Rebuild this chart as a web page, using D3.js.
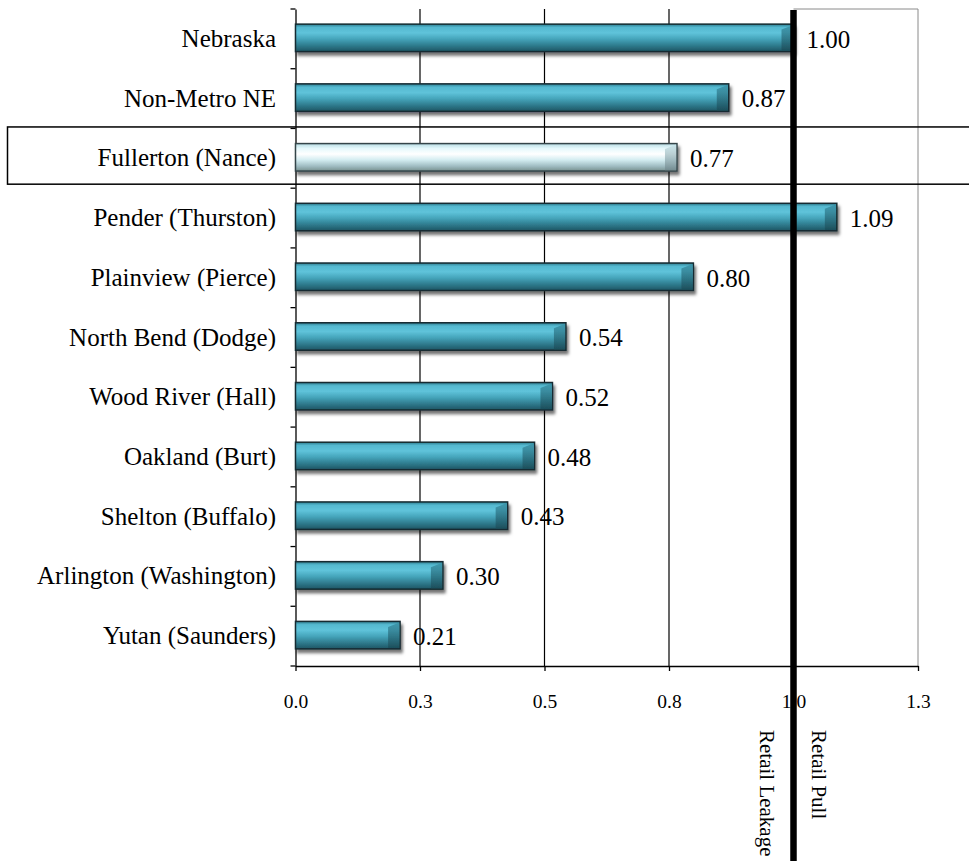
<!DOCTYPE html>
<html>
<head>
<meta charset="utf-8">
<script src="https://cdn.jsdelivr.net/npm/d3@7"></script>
<style>
  body { margin: 0; background: #fff; }
  svg text { font-family: 'Liberation Serif', 'Times New Roman', serif; fill: #000; }
</style>
</head>
<body>
<div id="chart"></div>
<script>
// data
const categories = ["Nebraska", "Non-Metro NE", "Fullerton (Nance)", "Pender (Thurston)",
  "Plainview (Pierce)", "North Bend (Dodge)", "Wood River (Hall)", "Oakland (Burt)",
  "Shelton (Buffalo)", "Arlington (Washington)", "Yutan (Saunders)"];
const pullFactors = [1.00, 0.87, 0.766, 1.087, 0.799, 0.543, 0.516, 0.48, 0.426, 0.296, 0.21];
const tickValues = [0, 0.25, 0.5, 0.75, 1.0, 1.25];
const tickLabels = ["0.0", "0.3", "0.5", "0.8", "1.0", "1.3"];
const highlighted = "Fullerton (Nance)";
const dividerValue = 1.0;
const dividerLabels = ["Retail Leakage", "Retail Pull"];

let rows = categories.map((c, i) => ({ name: c, value: pullFactors[i] }));

let svgWidth = 969, svgHeight = 861;
let margin = { top: 9, right: 51, bottom: 195, left: 295.5 };
let chartWidth = svgWidth - margin.left - margin.right;
let chartHeight = svgHeight - margin.top - margin.bottom;
const serif = "'Liberation Serif', 'Times New Roman', serif";

let svg = d3.select("#chart").append("svg")
  .attr("width", svgWidth)
  .attr("height", svgHeight)
  .attr("font-family", serif);

let defs = svg.append("defs");

//bar gradients
function vGrad(id, stops) {
  let g = defs.append("linearGradient").attr("id", id)
    .attr("x1", 0).attr("y1", 0).attr("x2", 0).attr("y2", 1);
  stops.forEach(s => g.append("stop").attr("offset", s[0]).attr("stop-color", s[1]));
}
vGrad("tealBar", [["0%", "#2d7c8f"], ["12%", "#55b9d0"], ["32%", "#5fc3da"], ["55%", "#44a3b9"], ["80%", "#2d7789"], ["100%", "#1e5563"]]);
vGrad("tealCap", [["0%", "#3a93a8"], ["100%", "#1c4c58"]]);
vGrad("paleBar", [["0%", "#b8dce3"], ["18%", "#e6f9fc"], ["38%", "#ffffff"], ["60%", "#d2ecf0"], ["82%", "#a0bdc3"], ["100%", "#78918f"]]);
vGrad("paleCap", [["0%", "#c9e4e9"], ["100%", "#71898e"]]);

let shadow = defs.append("filter").attr("id", "shadow")
  .attr("x", "-5%").attr("y", "-30%").attr("width", "115%").attr("height", "180%");
shadow.append("feDropShadow").attr("dx", 2).attr("dy", 3.5)
  .attr("stdDeviation", 1.8).attr("flood-color", "#000").attr("flood-opacity", 0.55);

let chartGroup = svg.append("g")
  .attr("transform", `translate(${margin.left}, ${margin.top})`);

//scales
let xScale = d3.scaleLinear()
  .domain([0, 1.25])
  .range([0, chartWidth]);

let yScale = d3.scaleBand()
  .domain(categories)
  .range([0, chartHeight])
  .paddingInner(0.54)
  .paddingOuter(0.27);

//gridlines
chartGroup.selectAll(".grid")
  .data(tickValues.filter(d => d > 0 && d < 1))
  .enter().append("line")
  .attr("x1", d => xScale(d)).attr("x2", d => xScale(d))
  .attr("y1", 0).attr("y2", chartHeight)
  .attr("stroke", "#000").attr("stroke-width", 1.2);

//plot border on the right
chartGroup.append("line")
  .attr("x1", xScale(1.25)).attr("x2", xScale(1.25))
  .attr("y1", 0).attr("y2", chartHeight)
  .attr("stroke", "#8a8a8a").attr("stroke-width", 1);
chartGroup.append("line")
  .attr("x1", xScale(dividerValue)).attr("x2", xScale(1.25))
  .attr("y1", 0).attr("y2", 0)
  .attr("stroke", "#8a8a8a").attr("stroke-width", 1);

//axes
let xAxis = d3.axisBottom(xScale)
  .tickValues(tickValues)
  .tickFormat((d, i) => tickLabels[i])
  .tickSize(5)
  .tickSizeOuter(0)
  .tickPadding(23);

let xAxisG = chartGroup.append("g")
  .attr("transform", `translate(0, ${chartHeight})`)
  .call(xAxis)
  .attr("font-family", serif)
  .attr("font-size", 19.5);
xAxisG.selectAll("line, path").attr("stroke", "#000").attr("stroke-width", 1.3);

let yAxis = d3.axisLeft(yScale).tickSize(0).tickPadding(19.5);
let yAxisG = chartGroup.append("g").call(yAxis)
  .attr("font-family", serif)
  .attr("font-size", 25);
yAxisG.select("path").attr("stroke", "#000").attr("stroke-width", 1.3);

//category boundary ticks
chartGroup.selectAll(".bound")
  .data(d3.range(categories.length + 1))
  .enter().append("line")
  .attr("x1", -5).attr("x2", 0)
  .attr("y1", i => i * yScale.step()).attr("y2", i => i * yScale.step())
  .attr("stroke", "#000").attr("stroke-width", 1.3);

//bars
let barGroups = chartGroup.selectAll(".bar")
  .data(rows)
  .enter().append("g")
  .attr("class", "bar")
  .attr("filter", "url(#shadow)");

barGroups.append("rect")
  .attr("x", 0)
  .attr("y", d => yScale(d.name) - 1)
  .attr("width", d => xScale(d.value))
  .attr("height", yScale.bandwidth())
  .attr("fill", d => d.name === highlighted ? "url(#paleBar)" : "url(#tealBar)")
  .attr("stroke", d => d.name === highlighted ? "#34454a" : "#172c31")
  .attr("stroke-width", 1.5);

//bevelled end of each bar
barGroups.append("path")
  .attr("d", d => {
    let xe = xScale(d.value), top = yScale(d.name) - 1, h = yScale.bandwidth();
    return `M${xe - 12},${top + h * 0.2} L${xe - 0.8},${top + 1} L${xe - 0.8},${top + h - 0.8} L${xe - 12},${top + h - 0.8} Z`;
  })
  .attr("fill", d => d.name === highlighted ? "url(#paleCap)" : "url(#tealCap)")
  .attr("opacity", 0.8);

//value labels
chartGroup.selectAll(".val")
  .data(rows)
  .enter().append("text")
  .attr("x", d => xScale(d.value) + 13)
  .attr("y", d => yScale(d.name) + yScale.bandwidth() / 2)
  .attr("dy", "0.35em")
  .attr("font-size", 25)
  .text(d => d.value.toFixed(2));

//divider line at 1.0
chartGroup.append("line")
  .attr("x1", xScale(dividerValue)).attr("x2", xScale(dividerValue))
  .attr("y1", 1).attr("y2", svgHeight - margin.top)
  .attr("stroke", "#000").attr("stroke-width", 6.5);

chartGroup.append("text")
  .attr("transform", `translate(${xScale(dividerValue) - 34}, ${721}) rotate(90)`)
  .attr("font-size", 21)
  .text(dividerLabels[0]);

chartGroup.append("text")
  .attr("transform", `translate(${xScale(dividerValue) + 18}, ${721}) rotate(90)`)
  .attr("font-size", 21)
  .text(dividerLabels[1]);

//highlight box round the study town
chartGroup.append("rect")
  .attr("x", 7.5 - margin.left)
  .attr("y", yScale(highlighted) - yScale.step() * 0.27 - 1.5)
  .attr("width", svgWidth)
  .attr("height", yScale.step() - 2.5)
  .attr("fill", "none")
  .attr("stroke", "#000")
  .attr("stroke-width", 1.5);
</script>
</body>
</html>
